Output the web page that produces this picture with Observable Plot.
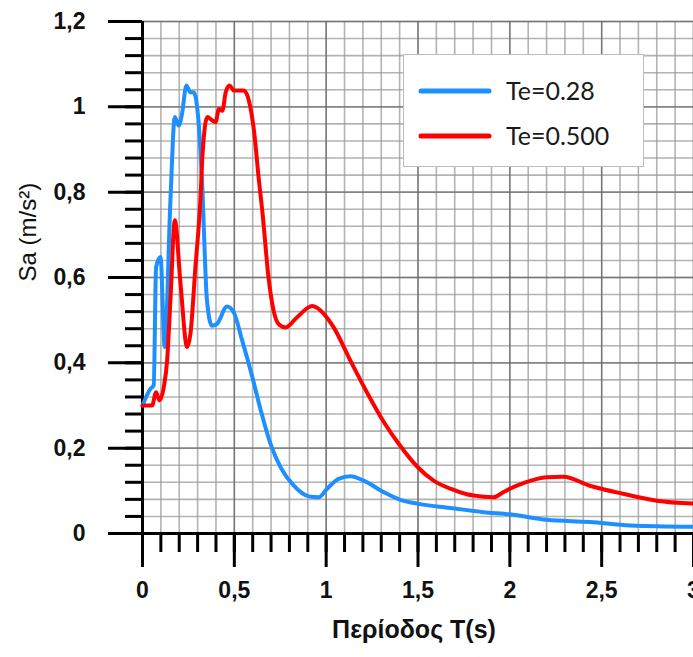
<!DOCTYPE html>
<html>
<head>
<meta charset="utf-8">
<script src="https://cdn.jsdelivr.net/npm/d3@7"></script>
<script src="https://cdn.jsdelivr.net/npm/@observablehq/plot@0.6"></script>
<style>
  html, body { margin: 0; padding: 0; background: #fff; overflow: hidden; }
  #wrap { position: relative; width: 693px; height: 657px; }
  #legend { position: absolute; left: 403px; top: 54px; width: 241px; height: 113px;
            background: #fff; border: 1px solid #bdbdbd; box-sizing: border-box; }
</style>
</head>
<body>
<div id="wrap"></div>
<script>
// ---- data ----
const blueT  = [0, 0.043, 0.061, 0.074, 0.098, 0.121, 0.152, 0.176, 0.197, 0.215, 0.239, 0.261, 0.279, 0.306, 0.324, 0.351, 0.378, 0.405, 0.46, 0.496, 0.541, 0.596, 0.643, 0.697, 0.752, 0.824, 0.905, 0.96, 1.005, 1.068, 1.132, 1.204, 1.313, 1.404, 1.495, 1.676, 1.857, 2.0, 2.2, 2.436, 2.654, 3.0];
const blueSa = [0.30, 0.339, 0.347, 0.624, 0.648, 0.437, 0.78, 0.976, 0.956, 0.983, 1.05, 1.034, 1.034, 0.96, 0.827, 0.546, 0.487, 0.491, 0.532, 0.519, 0.455, 0.37, 0.29, 0.21, 0.155, 0.112, 0.087, 0.085, 0.105, 0.128, 0.134, 0.124, 0.097, 0.079, 0.07, 0.06, 0.05, 0.045, 0.032, 0.027, 0.019, 0.016];

const redT  = [0, 0.052, 0.074, 0.092, 0.116, 0.134, 0.152, 0.176, 0.207, 0.243, 0.261, 0.288, 0.315, 0.326, 0.353, 0.38, 0.398, 0.416, 0.435, 0.453, 0.474, 0.498, 0.552, 0.579, 0.607, 0.634, 0.652, 0.688, 0.715, 0.743, 0.779, 0.842, 0.924, 0.987, 1.041, 1.132, 1.223, 1.313, 1.404, 1.495, 1.585, 1.676, 1.766, 1.802, 1.911, 1.965, 2.038, 2.074, 2.2, 2.291, 2.436, 2.617, 2.799, 3.0];
const redSa = [0.30, 0.30, 0.331, 0.312, 0.343, 0.405, 0.546, 0.734, 0.585, 0.437, 0.468, 0.624, 0.78, 0.882, 0.976, 0.968, 0.964, 0.995, 0.991, 1.034, 1.05, 1.038, 1.038, 1.015, 0.944, 0.827, 0.757, 0.593, 0.52, 0.49, 0.483, 0.507, 0.533, 0.515, 0.483, 0.405, 0.33, 0.262, 0.205, 0.157, 0.124, 0.105, 0.092, 0.089, 0.085, 0.097, 0.112, 0.118, 0.132, 0.133, 0.112, 0.093, 0.077, 0.07];

const seriesNames  = ["Te=0.28", "Te=0.500"];
const seriesColors = ["#1e8fff", "#ff0000"];

const xTicks = [0, 0.5, 1, 1.5, 2, 2.5, 3];
const xTickLabels = ["0", "0,5", "1", "1,5", "2", "2,5", "3"];
const yTicks = [0, 0.2, 0.4, 0.6, 0.8, 1, 1.2];
const yTickLabels = ["0", "0,2", "0,4", "0,6", "0,8", "1", "1,2"];
const xMinor = d3.range(0, 31).map(i => i / 10);
const yMinor = d3.range(0, 31).map(i => i * 0.04);

const xLabel = "Περίοδος T(s)";
const yLabel = "Sa (m/s²)";

// ---- build ----
const blue = blueT.map((t, i) => ({T: t, Sa: blueSa[i], s: seriesNames[0]}));
const red  = redT.map((t, i) => ({T: t, Sa: redSa[i], s: seriesNames[1]}));

const fmt = (ticks, labels) => d => labels[ticks.findIndex(t => Math.abs(t - d) < 1e-9)] ?? "";
const none = () => "";

const chart = Plot.plot({
  width: 693,
  height: 657,
  marginLeft: 142,
  marginRight: 0,
  marginTop: 21,
  marginBottom: 124,
  style: {fontFamily: "'Liberation Sans', Arial, sans-serif", background: "#fff", overflow: "visible"},
  x: {domain: [0, 3]},
  y: {domain: [0, 1.2]},
  marks: [
    Plot.gridX(xMinor, {stroke: "#9a9a9a", strokeOpacity: 0.75, strokeWidth: 1.6}),
    Plot.gridY(yMinor, {stroke: "#9a9a9a", strokeOpacity: 0.75, strokeWidth: 1.6}),
    Plot.gridX(xTicks, {stroke: "#666", strokeOpacity: 0.8, strokeWidth: 1.4}),
    Plot.gridY(yTicks, {stroke: "#666", strokeOpacity: 0.8, strokeWidth: 1.4}),
    Plot.axisX(xMinor, {tickSize: 19, tickFormat: none, stroke: "#000", strokeWidth: 3, label: null}),
    Plot.axisY(yMinor, {tickSize: 17, tickFormat: none, stroke: "#000", strokeWidth: 3, label: null}),
    Plot.axisX(xTicks, {tickSize: 34, tickPadding: 14, tickFormat: fmt(xTicks, xTickLabels),
      stroke: "#000", strokeWidth: 3, fontSize: 23, fontWeight: "bold", fill: "#111", label: null}),
    Plot.axisY(yTicks, {tickSize: 34, tickPadding: 23, tickFormat: fmt(yTicks, yTickLabels),
      stroke: "#000", strokeWidth: 3, fontSize: 23, fontWeight: "bold", fill: "#111", label: null}),
    Plot.ruleX([0], {stroke: "#000", strokeWidth: 3}),
    Plot.ruleY([0], {stroke: "#000", strokeWidth: 3}),
    Plot.line(blue, {x: "T", y: "Sa", stroke: seriesColors[0], strokeWidth: 4, curve: "monotone-x"}),
    Plot.line(red,  {x: "T", y: "Sa", stroke: seriesColors[1], strokeWidth: 4, curve: "monotone-x"}),
    Plot.text([yLabel], {frameAnchor: "left", rotate: -90, dx: -114, dy: 4, fontSize: 24, fill: "#111"}),
    Plot.text([xLabel], {frameAnchor: "bottom", dy: 104, dx: -4, fontSize: 25, fontWeight: "bold", fill: "#111"})
  ]
});

const wrap = document.getElementById("wrap");
wrap.appendChild(chart);

// legend overlay
const legend = document.createElement("div");
legend.id = "legend";
const ns = "http://www.w3.org/2000/svg";
const lsvg = document.createElementNS(ns, "svg");
lsvg.setAttribute("width", "239");
lsvg.setAttribute("height", "111");
seriesNames.forEach((name, i) => {
  const y = 36 + i * 45;
  const ln = document.createElementNS(ns, "line");
  ln.setAttribute("x1", 17); ln.setAttribute("x2", 85);
  ln.setAttribute("y1", y); ln.setAttribute("y2", y);
  ln.setAttribute("stroke", seriesColors[i]);
  ln.setAttribute("stroke-width", 5);
  ln.setAttribute("stroke-linecap", "round");
  lsvg.appendChild(ln);
  const tx = document.createElementNS(ns, "text");
  tx.setAttribute("x", 102);
  tx.setAttribute("y", y);
  tx.setAttribute("dy", "0.36em");
  tx.setAttribute("font-family", "Lato, 'Open Sans', sans-serif");
  tx.setAttribute("font-size", 25);
  tx.setAttribute("fill", "#1a1a1a");
  tx.textContent = name;
  lsvg.appendChild(tx);
});
legend.appendChild(lsvg);
wrap.appendChild(legend);
</script>
</body>
</html>
